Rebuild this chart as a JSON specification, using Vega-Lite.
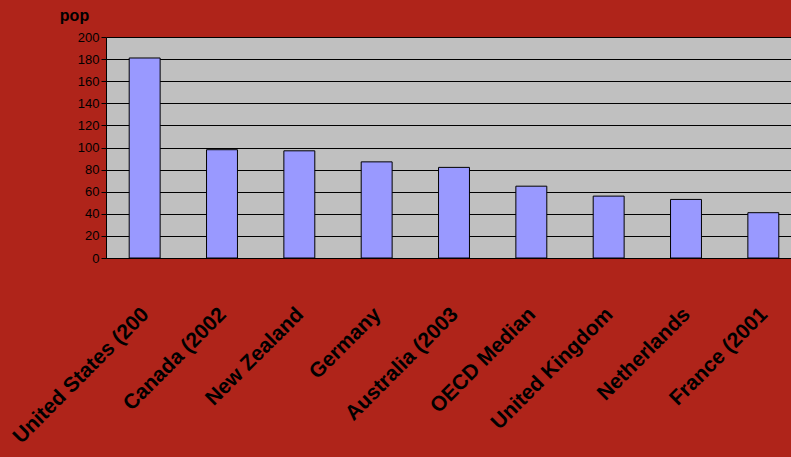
{
  "$schema": "https://vega.github.io/schema/vega-lite/v6.json",
  "autosize": "none",
  "width": 685,
  "height": 221,
  "padding": {"left": 106, "top": 37, "right": 0, "bottom": 199},
  "background": "#af241a",
  "config": {
    "view": {"fill": "#c0c0c0", "stroke": "#8a8a8a", "strokeWidth": 1},
    "font": "Liberation Sans"
  },
  "data": {
    "values": [
      {"country": "United States (2004)", "value": 181},
      {"country": "Canada (2002)", "value": 98},
      {"country": "New Zealand", "value": 97},
      {"country": "Germany", "value": 87},
      {"country": "Australia (2003)", "value": 82},
      {"country": "OECD Median", "value": 65},
      {"country": "United Kingdom", "value": 56},
      {"country": "Netherlands", "value": 53},
      {"country": "France (2001)", "value": 41}
    ]
  },
  "mark": {"type": "bar", "color": "#9999ff", "stroke": "#000000", "strokeWidth": 1},
  "encoding": {
    "x": {
      "field": "country",
      "type": "nominal",
      "sort": null,
      "scale": {"range": [0, 696], "paddingInner": 0.6, "paddingOuter": 0.3},
      "axis": {
        "title": null,
        "labelAngle": -45,
        "labelAlign": "right",
        "labelBaseline": "middle",
        "labelPadding": 53,
        "labelOffset": 1,
        "labelFontSize": 21,
        "labelFontWeight": "bold",
        "labelColor": "#000000",
        "labelLimit": 1000,
        "labelExpr": "substring(replace(datum.label, ')', ''), 0, 18)",
        "ticks": false,
        "domainColor": "#000000",
        "domainWidth": 1
      }
    },
    "y": {
      "field": "value",
      "type": "quantitative",
      "scale": {"domain": [0, 200]},
      "axis": {
        "values": [0, 20, 40, 60, 80, 100, 120, 140, 160, 180, 200],
        "title": "pop",
        "titleAngle": 0,
        "titleAlign": "center",
        "titleBaseline": "middle",
        "titleX": -32,
        "titleY": -22,
        "titleFontSize": 16,
        "titleFontWeight": "bold",
        "titleColor": "#000000",
        "labelFontSize": 13,
        "labelColor": "#000000",
        "labelPadding": 2,
        "tickSize": 5,
        "tickColor": "#000000",
        "domainColor": "#000000",
        "gridColor": "#000000",
        "gridWidth": 1,
        "gridOpacity": 1
      }
    }
  }
}
